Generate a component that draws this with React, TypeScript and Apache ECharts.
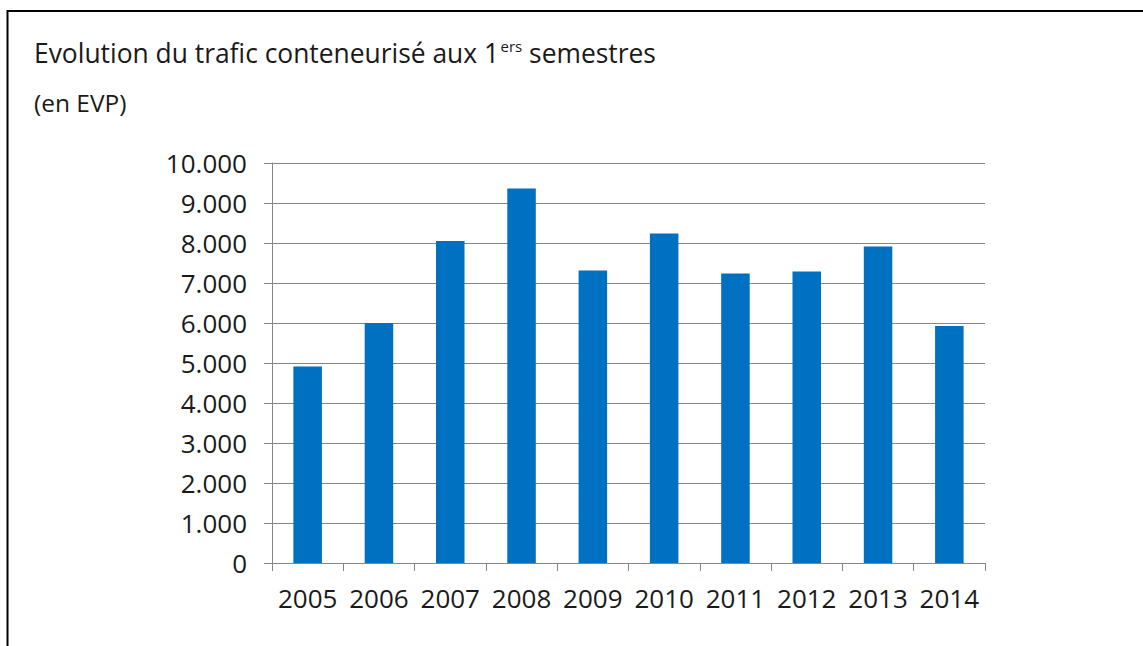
import React, { useEffect, useRef } from "react";
import * as echarts from "echarts";

const years = ["2005", "2006", "2007", "2008", "2009", "2010", "2011", "2012", "2013", "2014"];
const teu = [4910, 6000, 8050, 9365, 7310, 8235, 7235, 7285, 7910, 5925];
const yTicks = { min: 0, max: 10000, interval: 1000 };
const titleMain = "Evolution du trafic conteneurisé aux 1";
const titleSup = "ers";
const titleEnd = " semestres";
const subtitle = "(en EVP)";

const FONT = "'Open Sans', 'Noto Sans', sans-serif";
const TITLE_SIZE = 26.4;
const SUP_SIZE = 15;

function measure(text: string, size: number): number {
  const c = document.createElement("canvas").getContext("2d");
  if (!c) return text.length * size * 0.5;
  c.font = `${size}px "Open Sans"`;
  return c.measureText(text).width;
}

export default function App() {
  const ref = useRef<HTMLDivElement>(null);
  useEffect(() => {
    if (!ref.current) return;
    const chart = echarts.init(ref.current, null, { renderer: "svg" });
    const x0 = 34;
    const w1 = measure(titleMain, TITLE_SIZE);
    const w2 = measure(titleSup, SUP_SIZE);
    const xSup = x0 + w1 + 1.5;
    const xEnd = xSup + w2;
    chart.setOption({
      animation: false,
      backgroundColor: "#ffffff",
      textStyle: { fontFamily: FONT },
      graphic: [
        { type: "line", shape: { x1: 7, y1: 11, x2: 1143, y2: 11 }, style: { stroke: "#000", lineWidth: 2 } },
        { type: "line", shape: { x1: 7.5, y1: 10, x2: 7.5, y2: 646 }, style: { stroke: "#000", lineWidth: 2 } },
        {
          type: "text",
          x: x0,
          y: 53,
          style: { text: titleMain, fontSize: TITLE_SIZE, fontFamily: FONT, fill: "#1a1a1a", verticalAlign: "middle", align: "left" },
        },
        {
          type: "text",
          x: xSup,
          y: 46,
          style: { text: titleSup, fontSize: SUP_SIZE, fontFamily: FONT, fill: "#1a1a1a", verticalAlign: "middle", align: "left" },
        },
        {
          type: "text",
          x: xEnd,
          y: 53,
          style: { text: titleEnd, fontSize: TITLE_SIZE, fontFamily: FONT, fill: "#1a1a1a", verticalAlign: "middle", align: "left" },
        },
        {
          type: "text",
          x: x0,
          y: 102,
          style: { text: subtitle, fontSize: 24.5, fontFamily: FONT, fill: "#1a1a1a", verticalAlign: "middle", align: "left" },
        },
      ],
      grid: { left: 272, right: 158, top: 163, bottom: 83, containLabel: false },
      xAxis: {
        type: "category",
        data: years,
        axisLine: { show: true, lineStyle: { color: "#868686", width: 1 } },
        axisTick: { show: true, length: 8, alignWithLabel: false, lineStyle: { color: "#868686" } },
        axisLabel: { interval: 0, fontSize: 26, color: "#1a1a1a", margin: 22, fontFamily: FONT },
      },
      yAxis: {
        type: "value",
        min: yTicks.min,
        max: yTicks.max,
        interval: yTicks.interval,
        axisLine: { show: true, lineStyle: { color: "#868686", width: 1 } },
        axisTick: { show: true, length: 8, lineStyle: { color: "#868686" } },
        splitLine: { show: true, lineStyle: { color: "#868686", width: 1 } },
        axisLabel: {
          fontSize: 26,
          color: "#1a1a1a",
          margin: 25,
          fontFamily: FONT,
          formatter: (v: number) => (v >= 1000 ? Math.floor(v / 1000) + "." + String(v % 1000).padStart(3, "0") : String(v)),
        },
      },
      series: [
        {
          type: "bar",
          data: teu,
          barWidth: "40%",
          itemStyle: { color: "#0070C0" },
        },
      ],
    });
    return () => chart.dispose();
  }, []);
  return <div ref={ref} style={{ position: "fixed", left: 0, top: 0, width: 1143, height: 646 }} />;
}
